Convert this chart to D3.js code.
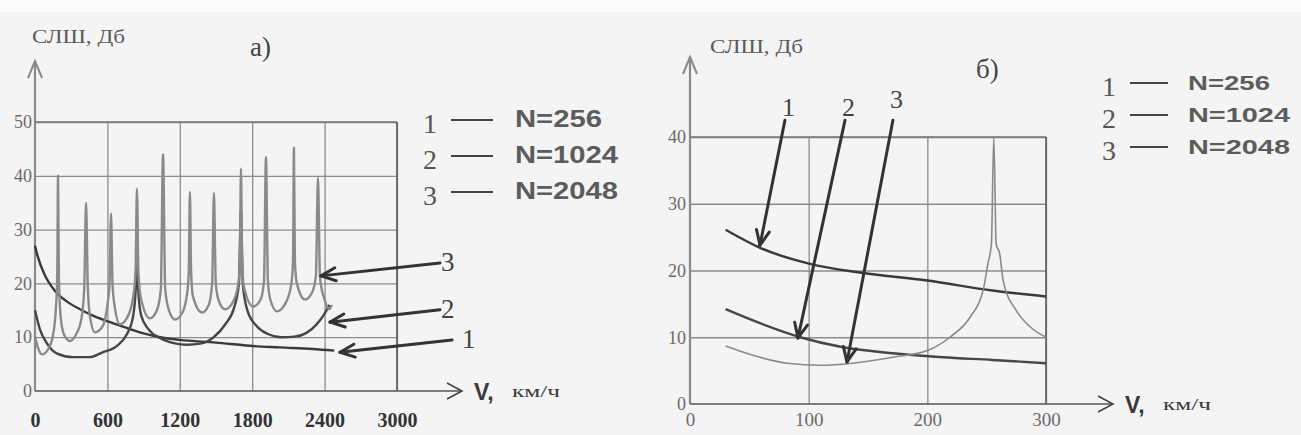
<!DOCTYPE html>
<html>
<head>
<meta charset="utf-8">
<script src="https://d3js.org/d3.v7.min.js"></script>
<style>
body { margin: 0; background: #f4f4f4; }
svg { display: block; }
</style>
</head>
<body>
<svg id="world" width="1301" height="435"></svg>
<script>
// ---- data, panel a) : V km/h vs SNR dB ----
var ticksXA = [0, 600, 1200, 1800, 2400, 3000];
var ticksYA = [0, 10, 20, 30, 40, 50];
var curveA1 = [[0, 27], [20, 25.2], [80, 21.6], [166, 18.6], [260, 16.7], [373, 15.2], [480, 14.0],
  [597, 13.0], [700, 12.2], [787, 11.5], [900, 10.7], [1036, 10.0], [1200, 9.5], [1500, 9.0],
  [1780, 8.4], [2030, 8.1], [2300, 7.8], [2480, 7.5]];
var curveA2 = [[0, 15], [40, 11.5], [100, 8.8], [180, 7.0], [315, 6.3], [450, 6.3], [560, 7.2],
  [680, 8.4], [760, 10.5], [810, 13.5], [835, 19], [845, 30], [855, 19], [880, 14], [940, 11.5],
  [1040, 9.8], [1150, 8.9], [1260, 8.6], [1370, 8.8], [1480, 10], [1580, 12.5], [1650, 15.5],
  [1690, 20], [1707, 34], [1722, 20], [1760, 15], [1840, 12], [1930, 10.6], [2040, 10],
  [2150, 10.1], [2250, 10.8], [2330, 12.3], [2390, 14], [2440, 16]];
var curveA3 = [[0, 10.2], [25, 8.0], [60, 6.8], [110, 7.8], [150, 10.5], [172, 15], [184, 21],
  [191, 40], [198, 21], [212, 14], [240, 10.5], [290, 9.3], [340, 10.5], [385, 13.5], [408, 19],
  [423, 35], [438, 19], [458, 13.5], [497, 10.9], [560, 12], [600, 16], [618, 20], [630, 33],
  [642, 20], [662, 15.5], [704, 12.4], [760, 13.5], [810, 17], [833, 22], [845, 37.6], [857, 22],
  [880, 17], [953, 13.5], [1010, 15], [1043, 19], [1061, 44], [1079, 19], [1110, 15], [1160, 13.3],
  [1220, 14.5], [1260, 18], [1274, 22], [1284, 37], [1294, 22], [1310, 17.5], [1384, 14.6],
  [1440, 16], [1468, 20], [1483, 36.8], [1498, 20], [1520, 17], [1574, 15.2], [1640, 16.5],
  [1685, 20], [1698, 24], [1707, 41.3], [1716, 24], [1730, 19.5], [1807, 15.7], [1870, 17],
  [1898, 20.5], [1914, 43.5], [1930, 20.5], [1950, 17], [2005, 14.8], [2080, 16.5], [2125, 20],
  [2138, 24], [2146, 45.2], [2154, 24], [2170, 20], [2237, 17], [2300, 18.5], [2328, 21.5],
  [2345, 39.6], [2362, 21], [2400, 17], [2440, 15.2], [2460, 16]];

// ---- data, panel б) ----
var ticksXB = [0, 100, 200, 300];
var ticksYB = [0, 10, 20, 30, 40];
var curveB1 = [[30, 26.1], [59, 23.4], [101, 21.0], [143, 19.7], [200, 18.5], [255, 17.0], [300, 16.1]];
var curveB2 = [[30, 14.2], [59, 12.1], [93, 10.0], [129, 8.5], [171, 7.6], [213, 7.0], [255, 6.6], [300, 6.1]];
var curveB3 = [[30, 8.7], [59, 7.0], [82, 6.1], [110, 5.8], [137, 6.1], [171, 7.0], [200, 8.0],
  [219, 10.0], [236, 13.0], [247, 17.0], [251, 21], [254, 24], [256, 40], [258, 24], [261, 22.5],
  [264, 18.4], [275, 14], [287, 11.5], [300, 10.0]];

// legend
var legendNums = ["1", "2", "3"];
var legendNames = ["N=256", "N=1024", "N=2048"];

// annotation arrows: [label, tailV, tailDb, tipV, tipDb]
var arrowsA = [["3", 3356, 23.8, 2370, 21.4], ["2", 3356, 15.1, 2445, 12.8], ["1", 3456, 9.5, 2528, 7.2]];
var arrowsB = [["1", 80, 42.5, 59, 23.8], ["2", 130.6, 42.5, 91, 9.9], ["3", 171, 42.5, 132.3, 6.3]];

var svg = d3.select("#world");
svg.append("rect").attr("width", 1301).attr("height", 12).attr("fill", "#fbfbfb");

var serif = "'Liberation Serif', 'DejaVu Serif', serif";
var sans = "'Liberation Sans', Arial, sans-serif";

var line = function(x, y) {
  return d3.line().x(function(d) { return x(d[0]); }).y(function(d) { return y(d[1]); })
    .curve(d3.curveMonotoneX);
};

var drawArrow = function(g, x1, y1, x2, y2) {
  g.append("line").attr("x1", x1).attr("y1", y1).attr("x2", x2).attr("y2", y2)
    .attr("stroke", "#333").attr("stroke-width", 3).attr("stroke-linecap", "round");
  var a = Math.atan2(y1 - y2, x1 - x2);
  [-0.42, 0.42].forEach(function(o) {
    g.append("line").attr("x1", x2).attr("y1", y2)
      .attr("x2", x2 + 16 * Math.cos(a + o)).attr("y2", y2 + 16 * Math.sin(a + o))
      .attr("stroke", "#333").attr("stroke-width", 3).attr("stroke-linecap", "round");
  });
};

var drawPanel = function(o) {
  var g = svg.append("g");
  var x = o.x, y = o.y;
  var x0 = x.range()[0], x1 = x.range()[1], y0 = y.range()[0], y1 = y.range()[1];

  // grid
  g.append("g").attr("transform", "translate(" + x0 + ",0)")
    .call(d3.axisLeft(y).tickValues(o.ty.slice(1)).tickSize(-(x1 - x0)).tickFormat(""))
    .call(function(s) { s.select(".domain").remove(); s.selectAll("line").attr("stroke", "#8c8c8c").attr("stroke-width", 1.3); });
  g.append("g").attr("transform", "translate(0," + y0 + ")")
    .call(d3.axisBottom(x).tickValues(o.tx.slice(1)).tickSize(-(y0 - y1)).tickFormat(""))
    .call(function(s) { s.select(".domain").remove(); s.selectAll("line").attr("stroke", "#8c8c8c").attr("stroke-width", 1.3); });

  // tick labels
  g.append("g").attr("transform", "translate(" + x0 + ",0)")
    .call(d3.axisLeft(y).tickValues(o.ty).tickSize(0).tickPadding(o.yPad).tickFormat(d3.format("d")))
    .call(function(s) {
      s.select(".domain").remove();
      s.selectAll("text").attr("font-family", serif).attr("font-size", 18).attr("fill", "#6a6a6a");
    });
  g.append("g").attr("transform", "translate(0," + y0 + ")")
    .call(d3.axisBottom(x).tickValues(o.tx).tickSize(0).tickPadding(o.xPad).tickFormat(d3.format("d")))
    .call(function(s) {
      s.select(".domain").remove();
      s.selectAll("text").attr("font-family", serif).attr("font-size", o.xFont)
        .attr("font-weight", o.xBold ? "bold" : "normal").attr("fill", o.xBold ? "#333" : "#6a6a6a");
    });

  // axes with arrows
  g.append("line").attr("x1", x0).attr("y1", y0).attr("x2", x0).attr("y2", o.yTop)
    .attr("stroke", "#8a8a8a").attr("stroke-width", 2.2);
  g.append("path").attr("d", "M" + (x0 - 7) + "," + (o.yTop + 17) + "L" + x0 + "," + o.yTop + "L" + (x0 + 7) + "," + (o.yTop + 17))
    .attr("fill", "none").attr("stroke", "#8a8a8a").attr("stroke-width", 2);
  g.append("line").attr("x1", x0).attr("y1", y0).attr("x2", o.xEnd).attr("y2", y0)
    .attr("stroke", "#555").attr("stroke-width", 1.6);
  g.append("path").attr("d", "M" + (o.xEnd - 15) + "," + (y0 - 8) + "L" + o.xEnd + "," + y0 + "L" + (o.xEnd - 15) + "," + (y0 + 8))
    .attr("fill", "none").attr("stroke", "#444").attr("stroke-width", 1.6);
  // frame top / right
  g.append("line").attr("x1", x0).attr("y1", y1).attr("x2", x1).attr("y2", y1).attr("stroke", "#777").attr("stroke-width", 1.4);
  g.append("line").attr("x1", x1).attr("y1", y1).attr("x2", x1).attr("y2", y0).attr("stroke", "#666").attr("stroke-width", 1.8);

  // curves
  var styles = [["#3a3a3a", 2.4], ["#464646", 2.4], ["#8a8a8a", o.c3w]];
  o.curves.forEach(function(c, i) {
    g.append("path").attr("d", line(x, y)(c)).attr("fill", "none")
      .attr("stroke", styles[i][0]).attr("stroke-width", styles[i][1]).attr("stroke-linejoin", "round");
  });

  // arrows
  o.arrows.forEach(function(a) {
    drawArrow(g, x(a[1]), y(a[2]), x(a[3]), y(a[4]));
  });

  // axis labels
  g.append("text").attr("x", o.titleX).attr("y", o.titleY).text("СЛШ, Дб")
    .attr("font-family", serif).attr("font-size", 19).attr("fill", "#5a5a5a")
    .attr("textLength", 93).attr("lengthAdjust", "spacingAndGlyphs");
  g.append("text").attr("x", o.xEnd + 12).attr("y", y0 + 9).text("V,")
    .attr("font-family", sans).attr("font-weight", "bold").attr("font-size", 23).attr("fill", "#3a3a3a");
  g.append("text").attr("x", o.xEnd + 50).attr("y", y0 + 6).text("км/ч")
    .attr("font-family", serif).attr("font-size", 17).attr("fill", "#3a3a3a")
    .attr("textLength", 48).attr("lengthAdjust", "spacingAndGlyphs");
  g.append("text").attr("x", o.tagX).attr("y", o.tagY).text(o.tag)
    .attr("font-family", serif).attr("font-size", 27).attr("fill", "#444");

  // legend
  legendNums.forEach(function(n, i) {
    var ly = o.legY + i * o.legStep;
    g.append("text").attr("x", o.legX).attr("y", ly + 10).text(n)
      .attr("font-family", serif).attr("font-size", 28).attr("fill", "#555");
    g.append("line").attr("x1", o.legX + 28).attr("x2", o.legX + 28 + o.legLen).attr("y1", ly - 3).attr("y2", ly - 3)
      .attr("stroke", "#444").attr("stroke-width", 1.8);
    g.append("text").attr("x", o.legX + o.legTextDx).attr("y", ly + 4).text(legendNames[i])
      .attr("font-family", sans).attr("font-weight", "bold").attr("font-size", o.legFont).attr("fill", "#5c5c5c")
      .attr("textLength", i === 0 ? o.legW0 : o.legW1).attr("lengthAdjust", "spacingAndGlyphs");
  });
  return g;
};

var xA = d3.scaleLinear().domain([0, 3000]).range([35, 397]);
var yA = d3.scaleLinear().domain([0, 50]).range([391, 122]);
var xB = d3.scaleLinear().domain([0, 300]).range([690, 1046]);
var yB = d3.scaleLinear().domain([0, 40]).range([404, 137]);

var gA = drawPanel({
  x: xA, y: yA,
  tx: ticksXA, ty: ticksYA, curves: [curveA1, curveA2, curveA3], c3w: 2.4,
  arrows: arrowsA, yTop: 61, xEnd: 462, yPad: 3, xPad: 22, xFont: 20, xBold: true,
  titleX: 32, titleY: 43, tag: "а)", tagX: 250, tagY: 56,
  legX: 423, legY: 123, legStep: 36, legLen: 42, legTextDx: 92, legFont: 24, legW0: 87, legW1: 103
});
var gB = drawPanel({
  x: xB, y: yB,
  tx: ticksXB, ty: ticksYB, curves: [curveB1, curveB2, curveB3], c3w: 1.6,
  arrows: arrowsB, yTop: 57, xEnd: 1113, yPad: 4, xPad: 9, xFont: 19, xBold: false,
  titleX: 710, titleY: 53, tag: "б)", tagX: 976, tagY: 78,
  legX: 1102, legY: 86, legStep: 32, legLen: 38, legTextDx: 86, legFont: 21, legW0: 82, legW1: 102
});

// arrow numbers
arrowsA.forEach(function(a) {
  gA.append("text").attr("x", xA(a[1]) + (a[0] === "1" ? 10 : 1)).attr("y", yA(a[2]) + 8).text(a[0])
    .attr("font-family", serif).attr("font-size", 27).attr("fill", "#444");
});
arrowsB.forEach(function(a) {
  gB.append("text").attr("x", xB(a[1]) - 3).attr("y", yB(a[2]) - (a[0] === "3" ? 12 : 4)).text(a[0])
    .attr("font-family", serif).attr("font-size", 26).attr("fill", "#444");
});
</script>
</body>
</html>
